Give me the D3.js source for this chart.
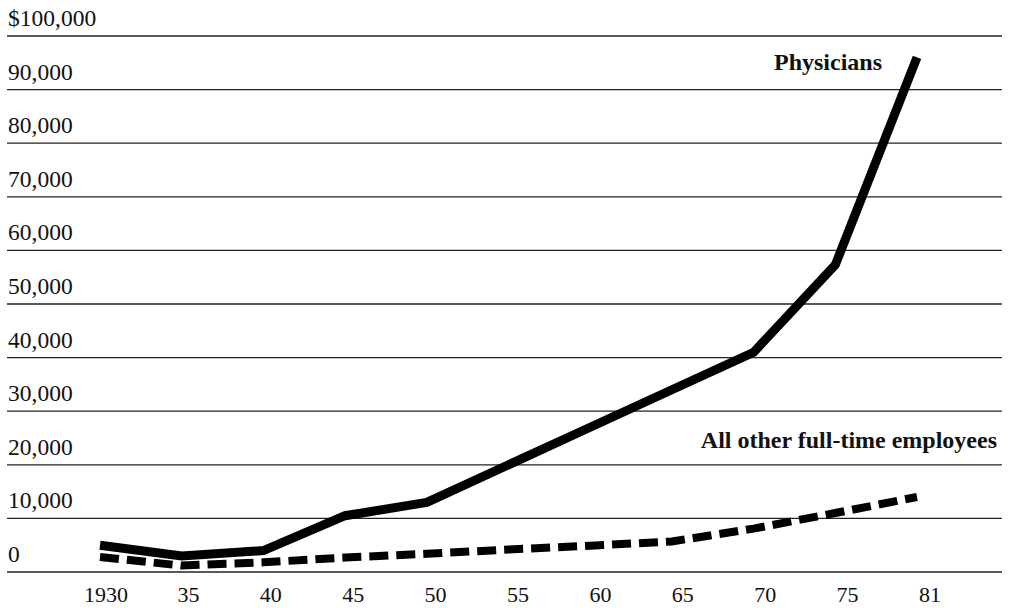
<!DOCTYPE html>
<html>
<head>
    <title></title>
    <style>
        body {
            margin: 0;
            background: #fff;
        }
        text {
            font-family: "Liberation Serif", "Times New Roman", serif;
            fill: #111;
        }
        .grid line {
            stroke: #222;
            stroke-width: 1.3px;
        }
        .tick-label {
            font-size: 22px;
        }
        .y.tick-label {
            font-size: 23.5px;
        }
        .series-label {
            font-size: 24px;
            font-weight: bold;
        }
        path.series {
            fill: none;
            stroke: #000;
        }
        .physicians {
            stroke-width: 9px;
            stroke-linejoin: miter;
        }
        .others {
            stroke-width: 8px;
            stroke-dasharray: 19 8;
        }
    </style>
</head>
<body>
<script src="https://d3js.org/d3.v7.min.js"></script>
<script>
    var width = 1014;
    var height = 608;

    // data
    var years = [1930, 1935, 1940, 1945, 1950, 1955, 1960, 1965, 1970, 1975, 1981];
    var yearLabels = ["1930", "35", "40", "45", "50", "55", "60", "65", "70", "75", "81"];
    var physicians = [5000, 3000, 4000, 10500, 13000, 20000, 27000, 34000, 41000, 57300, 96000];
    var others = [2800, 1200, 1800, 2700, 3400, 4200, 4900, 5700, 8100, 11000, 14000];
    var yTicks = [0, 10000, 20000, 30000, 40000, 50000, 60000, 70000, 80000, 90000, 100000];

    var svg = d3.select("body").append("svg")
            .attr("width", width)
            .attr("height", height);

    var x = d3.scalePoint().domain(years).range([100, 917]);
    var xLabel = d3.scalePoint().domain(years).range([106, 930]);
    var y = d3.scaleLinear().domain([0, 100000]).range([572, 36]);

    var fmt = d3.format(",");

    // horizontal rules with their labels sitting on top
    var grid = svg.append("g").attr("class", "grid");
    grid.selectAll("line").data(yTicks).enter().append("line")
            .attr("x1", 7)
            .attr("x2", 1002)
            .attr("y1", function(d) {return y(d);})
            .attr("y2", function(d) {return y(d);});

    svg.selectAll("text.y").data(yTicks).enter().append("text")
            .attr("class", "y tick-label")
            .attr("x", 8)
            .attr("y", function(d) {return y(d) - 10;})
            .text(function(d) {return d === 100000 ? "$" + fmt(d) : fmt(d);});

    svg.selectAll("text.x").data(years).enter().append("text")
            .attr("class", "x tick-label")
            .attr("text-anchor", "middle")
            .attr("x", function(d) {return xLabel(d);})
            .attr("y", 602)
            .text(function(d, i) {return yearLabels[i];});

    var line = d3.line()
            .x(function(d) {return x(d[0]);})
            .y(function(d) {return y(d[1]);});

    svg.append("path")
            .datum(d3.zip(years, others))
            .attr("class", "series others")
            .attr("d", line);

    svg.append("path")
            .datum(d3.zip(years, physicians))
            .attr("class", "series physicians")
            .attr("d", line);

    svg.append("text")
            .attr("class", "series-label")
            .attr("text-anchor", "end")
            .attr("x", 882)
            .attr("y", 70)
            .text("Physicians");

    svg.append("text")
            .attr("class", "series-label")
            .attr("text-anchor", "end")
            .attr("x", 997)
            .attr("y", 448)
            .text("All other full-time employees");
</script>
</body>
</html>
